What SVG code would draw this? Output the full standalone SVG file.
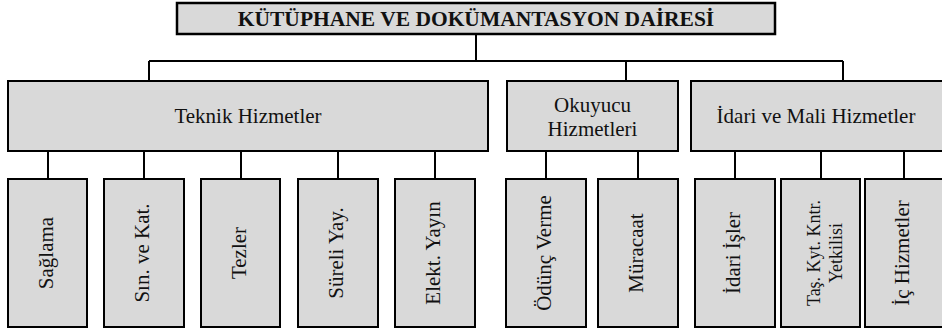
<svg xmlns="http://www.w3.org/2000/svg" width="942" height="332" viewBox="0 0 942 332">
<style>
.box{fill:#d9d9d9;stroke:#000;stroke-width:2}
.top{fill:#d9d9d9;stroke:#000;stroke-width:2.5}
.ln{stroke:#000;stroke-width:2;fill:none}
text{font-family:"Liberation Serif","Times New Roman","DejaVu Serif",serif;font-size:21px;fill:#111;text-anchor:middle}
.title{font-weight:bold;font-size:21.5px}
.sm{font-size:18px}
</style>
<rect width="942" height="332" fill="#fff"/>
<g id="connectors">
<path class="ln" d="M476,34V61M149,61H843M149,61V81M626,61V81M843,61V81"/>
<path class="ln" d="M48,151V179M144,151V179M241,151V179M338,151V179M435,151V179"/>
<path class="ln" d="M546,151V179M638,151V179M735,151V179M821,151V179M904,151V179"/>
</g>
<g id="n-root"><rect class="top" x="177" y="3" width="598" height="31"/><text class="title" x="476" y="26">KÜTÜPHANE VE DOKÜMANTASYON DAİRESİ</text></g>
<g id="n-teknik"><rect class="box" x="8" y="81" width="480" height="70"/><text x="248" y="123">Teknik Hizmetler</text></g>
<g id="n-okuyucu"><rect class="box" x="507" y="81" width="171" height="70"/><text x="592.5" y="112">Okuyucu</text><text x="592.5" y="136">Hizmetleri</text></g>
<g id="n-idari"><rect class="box" x="691" y="81" width="253" height="70"/><text x="816" y="123">İdari ve Mali Hizmetler</text></g>
<g id="n-saglama"><rect class="box" x="8" y="179" width="79" height="148"/><text transform="translate(48,253) rotate(-90)" y="5">Sağlama</text></g>
<g id="n-sin"><rect class="box" x="104" y="179" width="80" height="148"/><text transform="translate(144,253) rotate(-90)" y="5">Sın. ve Kat.</text></g>
<g id="n-tezler"><rect class="box" x="201" y="179" width="79" height="148"/><text transform="translate(240.5,253) rotate(-90)" y="5">Tezler</text></g>
<g id="n-sureli"><rect class="box" x="298" y="179" width="80" height="148"/><text transform="translate(338,253) rotate(-90)" y="5">Süreli Yay.</text></g>
<g id="n-elekt"><rect class="box" x="395" y="179" width="80" height="148"/><text transform="translate(435,253) rotate(-90)" y="5">Elekt. Yayın</text></g>
<g id="n-odunc"><rect class="box" x="506" y="179" width="80" height="148"/><text transform="translate(546,253) rotate(-90)" y="5">Ödünç Verme</text></g>
<g id="n-muracaat"><rect class="box" x="598" y="179" width="80" height="148"/><text transform="translate(638,253) rotate(-90)" y="5">Müracaat</text></g>
<g id="n-idariisler"><rect class="box" x="695" y="179" width="80" height="148"/><text transform="translate(735,253) rotate(-90)" y="5">İdari İşler</text></g>
<g id="n-tas"><rect class="box" x="781" y="179" width="79" height="148"/><text class="sm" transform="translate(820.5,253) rotate(-90)" y="-1">Taş. Kyt. Kntr.</text><text class="sm" transform="translate(820.5,253) rotate(-90)" y="21">Yetkilisi</text></g>
<g id="n-ic"><rect class="box" x="865" y="179" width="79" height="148"/><text transform="translate(904,253) rotate(-90)" y="5">İç Hizmetler</text></g>
</svg>
